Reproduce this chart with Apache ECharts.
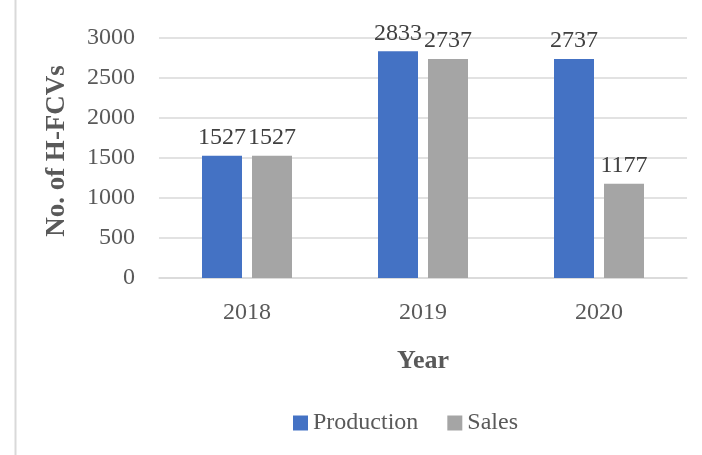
<!DOCTYPE html>
<html>
<head>
<meta charset="utf-8">
<script src="https://cdn.jsdelivr.net/npm/echarts@6/dist/echarts.min.js"></script>
<style>
html,body{margin:0;padding:0;background:#fff;}
#c{width:702px;height:455px;}
</style>
</head>
<body>
<div id="c"></div>
<script>
const categories = ['2018', '2019', '2020'];
const production = [1527, 2833, 2737];
const sales = [1527, 2737, 1177];
const seriesNames = ['Production', 'Sales'];

const FONT = '"Liberation Serif", "DejaVu Serif", serif';
const chart = echarts.init(document.getElementById('c'), null, {renderer: 'canvas'});
const labelStyle = {show: true, position: 'top', distance: 6, color: '#404040', fontFamily: FONT, fontSize: 24};
chart.setOption({
  animation: false,
  textStyle: {fontFamily: FONT},
  graphic: [{type: 'line', shape: {x1: 15.5, y1: 0, x2: 15.5, y2: 455}, style: {stroke: '#d9d9d9', lineWidth: 2}}],
  grid: {left: 159, right: 15, top: 38, bottom: 177},
  legend: {
    data: seriesNames, bottom: 15, left: 288,
    itemWidth: 15, itemHeight: 15, itemGap: 29,
    textStyle: {fontFamily: FONT, fontSize: 24, color: '#595959'},
    icon: 'rect'
  },
  xAxis: {
    type: 'category', data: categories,
    name: 'Year', nameLocation: 'middle', nameGap: 70,
    nameTextStyle: {fontFamily: FONT, fontSize: 26, fontWeight: 'bold', color: '#595959'},
    axisLine: {show: true, lineStyle: {color: '#d9d9d9', width: 1.5}},
    axisTick: {show: false},
    axisLabel: {fontFamily: FONT, fontSize: 24, color: '#595959', margin: 23}
  },
  yAxis: {
    type: 'value', min: 0, max: 3000, interval: 500,
    name: 'No. of H-FCVs', nameLocation: 'middle', nameGap: 88,
    nameTextStyle: {fontFamily: FONT, fontSize: 27, fontWeight: 'bold', color: '#595959', padding: [0, 0, 0, 14]},
    axisLine: {show: false}, axisTick: {show: false},
    axisLabel: {fontFamily: FONT, fontSize: 24, color: '#595959', margin: 24, formatter: v => String(v)},
    splitLine: {lineStyle: {color: '#d9d9d9', width: 1.5}}
  },
  series: [
    {name: seriesNames[0], type: 'bar', data: production, barWidth: 40, barGap: '25%', itemStyle: {color: '#4472C4'}, label: labelStyle},
    {name: seriesNames[1], type: 'bar', data: sales, barWidth: 40, itemStyle: {color: '#A5A5A5'}, label: labelStyle}
  ]
});
</script>
</body>
</html>
